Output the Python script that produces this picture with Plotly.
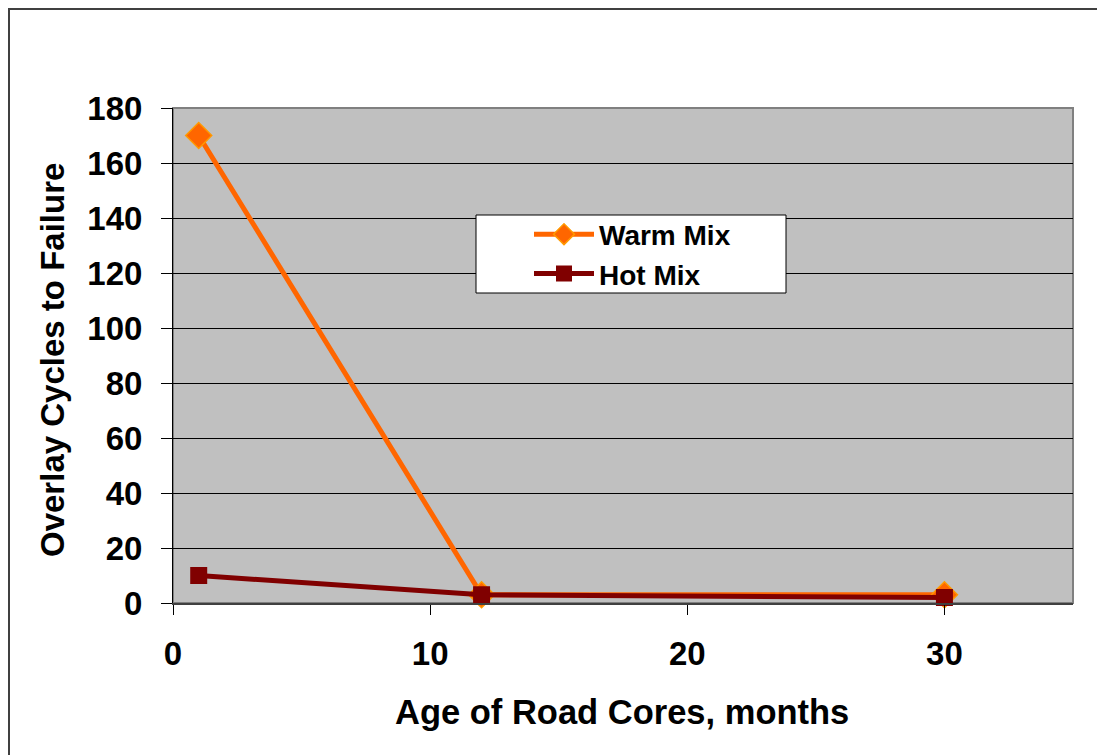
import plotly.graph_objects as go

age_months = [1, 12, 30]
warm_mix = [170, 3, 3]
hot_mix = [10, 3, 2]
x_ticks = [0, 10, 20, 30]
y_ticks = [0, 20, 40, 60, 80, 100, 120, 140, 160, 180]

# page body has an 8px margin; work in reference pixels and shift
OFF = 8
W, H = 1105 - OFF, 755 - OFF
L, R, T, B = 173 - OFF, 1073 - OFF, 108 - OFF, 603 - OFF

def px(xr):
    return (xr - OFF - L) / (R - L)

def py(yr):
    return (B - (yr - OFF)) / (B - T)

FONT = "Arial, Liberation Sans, sans-serif"

fig = go.Figure()
fig.add_trace(go.Scatter(
    x=age_months, y=warm_mix, name="<b>Warm Mix</b>", mode="lines+markers",
    line=dict(color="#FF6600", width=5),
    marker=dict(symbol="diamond", size=20, color="#FF6600",
                line=dict(color="#FF9900", width=1.5)),
    cliponaxis=False,
))
fig.add_trace(go.Scatter(
    x=age_months, y=hot_mix, name="<b>Hot Mix</b>", mode="lines+markers",
    line=dict(color="#800000", width=5),
    marker=dict(symbol="square", size=17, color="#800000",
                line=dict(color="#800000", width=0)),
    cliponaxis=False,
))

fig.update_layout(
    width=W, height=H,
    margin=dict(l=L, r=W - R, t=T, b=H - B),
    paper_bgcolor="white", plot_bgcolor="#C0C0C0",
    font=dict(family=FONT, color="black"),
    showlegend=True,
    legend=dict(
        x=px(529), y=py(254), xanchor="left", yanchor="middle",
        bgcolor="rgba(0,0,0,0)", borderwidth=0,
        font=dict(size=28, family=FONT, color="black"),
        itemwidth=60,
    ),
    xaxis=dict(
        range=[0, 35], tickvals=x_ticks, ticktext=[f"<b>{v}</b>" for v in x_ticks],
        showgrid=False, zeroline=False,
        ticks="outside", ticklen=10, tickcolor="black", tickwidth=1,
        ticklabelstandoff=10,
        tickfont=dict(size=33, family=FONT, color="black"),
        showline=True, linecolor="#404040", linewidth=2,
    ),
    yaxis=dict(
        range=[0, 180], tickvals=y_ticks, ticktext=[f"<b>{v}</b>" for v in y_ticks],
        showgrid=True, gridcolor="black", gridwidth=1, zeroline=False,
        ticks="outside", ticklen=11, tickcolor="black", tickwidth=1,
        ticklabelstandoff=12,
        tickfont=dict(size=33, family=FONT, color="black"),
        showline=True, linecolor="black", linewidth=1,
    ),
    shapes=[
        # plot area border
        dict(type="rect", xref="paper", yref="paper", x0=0, x1=1, y0=0, y1=1,
             line=dict(color="#808080", width=2), fillcolor="rgba(0,0,0,0)", layer="below"),
        # legend box
        dict(type="rect", xref="paper", yref="paper",
             x0=px(476), x1=px(786), y0=py(293), y1=py(215),
             line=dict(color="black", width=1), fillcolor="white", layer="above"),
        # outer chart border
        dict(type="rect", xref="paper", yref="paper",
             x0=px(9), x1=px(1125), y0=py(775), y1=py(9),
             line=dict(color="#404040", width=2), fillcolor="rgba(0,0,0,0)"),
    ],
    annotations=[
        dict(text="<b>Age of Road Cores, months</b>", xref="paper", yref="paper",
             x=px(622), y=py(712), xanchor="center", yanchor="middle", showarrow=False,
             font=dict(size=34.5, family=FONT, color="black")),
        dict(text="<b>Overlay Cycles to Failure</b>", xref="paper", yref="paper",
             x=px(52), y=py(360), xanchor="center", yanchor="middle", showarrow=False,
             textangle=-90, font=dict(size=33, family=FONT, color="black")),
    ],
)

fig.write_html("out.html")
